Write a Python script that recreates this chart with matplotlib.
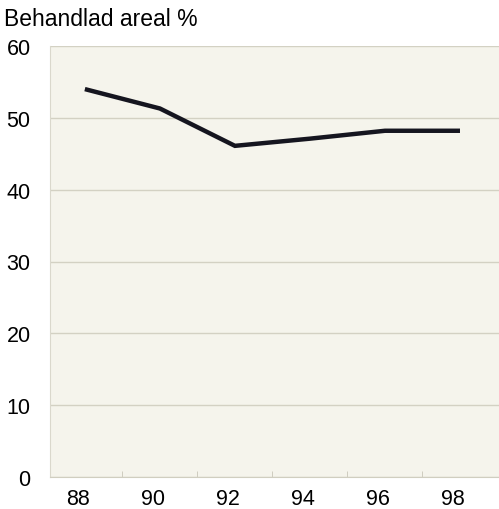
import matplotlib
matplotlib.use("Agg")
import matplotlib.pyplot as plt
from matplotlib.transforms import ScaledTranslation

# data
years = [88, 90, 92, 94, 96, 98]
share = [54.0, 51.3, 46.1, 47.1, 48.2, 48.2]
yticks = [0, 10, 20, 30, 40, 50, 60]
xlabels = ["88", "90", "92", "94", "96", "98"]

plt.rcParams['font.family'] = ['Liberation Sans', 'DejaVu Sans']

fig = plt.figure(figsize=(4.99, 5.10), dpi=100)
ax = fig.add_axes([50 / 499, 32 / 510, 449 / 499, 431 / 510])
ax.set_facecolor('#f5f4ec')

ax.plot(years, share, color='#15151f', linewidth=3.2, solid_joinstyle='miter',
        solid_capstyle='butt', zorder=3)

ax.set_xlim(87.07, 99.04)
ax.set_ylim(0, 60)
ax.set_yticks(yticks)
ax.set_xticks(years)
ax.set_xticklabels(xlabels)
ax.set_xticks([89, 91, 93, 95, 97], minor=True)

ax.grid(axis='y', color='#d3d1c3', linewidth=1.0, zorder=1)
for s in ['top', 'right']:
    ax.spines[s].set_visible(False)
ax.spines['left'].set_color('#dad8cc')
ax.spines['bottom'].set_color('#d0cec0')

ax.tick_params(axis='y', length=0, pad=14, labelsize=15.5)
ax.tick_params(axis='x', which='major', length=0, pad=8, labelsize=15.5)
ax.tick_params(axis='x', which='minor', direction='in', length=4, color='#c8c6b8')

# labels in the print sit a bit left of the data points
shift = ScaledTranslation(-7 / 100, 0, fig.dpi_scale_trans)
for lab in ax.get_xticklabels():
    lab.set_transform(lab.get_transform() + shift)

fig.text(4 / 499, 1 - 26 / 510, 'Behandlad areal %', fontsize=16.5, ha='left', va='baseline')

fig.savefig('out.png', dpi=100)
